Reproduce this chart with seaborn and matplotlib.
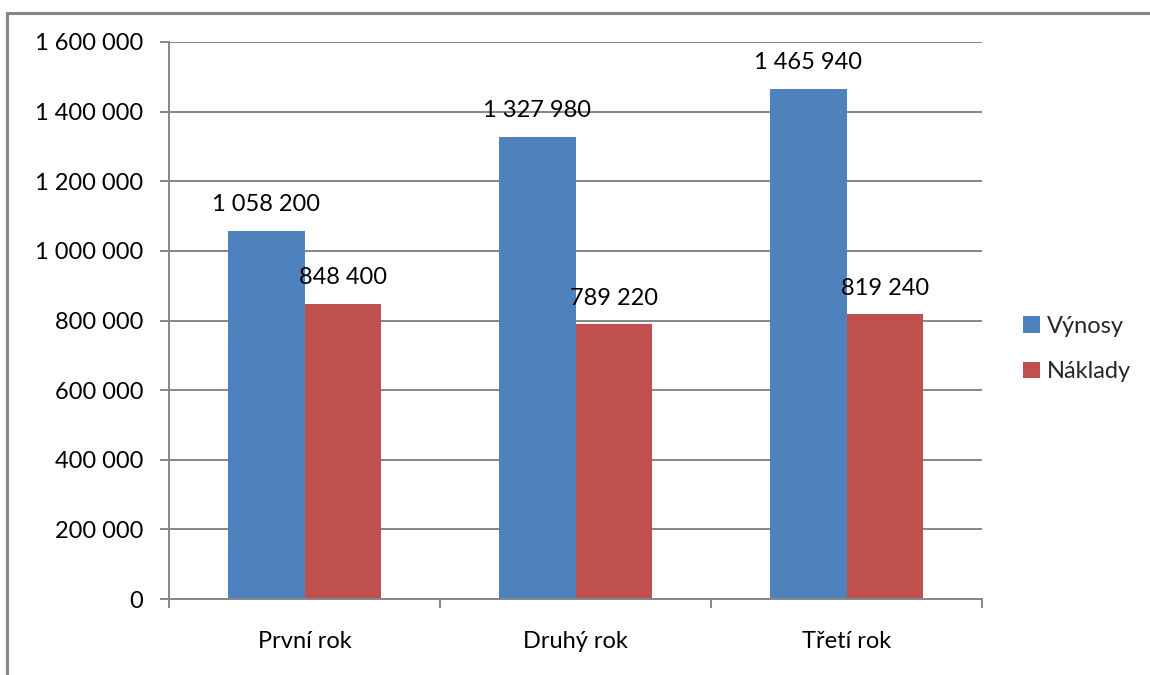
import matplotlib
matplotlib.use("Agg")
import matplotlib.pyplot as plt
from matplotlib.lines import Line2D
from matplotlib.ticker import FuncFormatter, FixedLocator
import seaborn as sns
import pandas as pd

# Roční výnosy a náklady
categories = ["První rok", "Druhý rok", "Třetí rok"]
vynosy = [1058200, 1327980, 1465940]
naklady = [848400, 789220, 819240]
series_names = ["Výnosy", "Náklady"]
y_ticks = [0, 200000, 400000, 600000, 800000, 1000000, 1200000, 1400000, 1600000]

df = pd.DataFrame({
    "rok": categories * 2,
    "hodnota": vynosy + naklady,
    "řada": [series_names[0]] * 3 + [series_names[1]] * 3,
})

sns.set_theme(style="white")
plt.rcParams["font.family"] = ["Lato", "DejaVu Sans"]

GRAY = "#868686"
BLUE = "#4F81BD"
RED = "#C0504D"
FS = 17

fig = plt.figure(figsize=(11.5, 6.75), dpi=100)
ax = fig.add_axes([169 / 1150, 1 - 599 / 675, (982 - 169) / 1150, (599 - 42) / 675])

sns.barplot(data=df, x="rok", y="hodnota", hue="řada", palette=[BLUE, RED],
            width=0.568, linewidth=0, saturation=1, ax=ax, legend=True,
            errorbar=None)

def fmt(v, _=None):
    return f"{int(round(v)):,}".replace(",", " ")

ax.set_ylim(0, 1600000)
ax.set_xlim(-0.5, 2.5)
ax.yaxis.set_major_locator(FixedLocator(y_ticks))
ax.yaxis.set_major_formatter(FuncFormatter(fmt))
ax.set_xlabel("")
ax.set_ylabel("")

ax.grid(axis="y", color=GRAY, linewidth=1.4)
ax.set_axisbelow(True)
for s in ["top", "right"]:
    ax.spines[s].set_visible(False)
for s in ["left", "bottom"]:
    ax.spines[s].set_color(GRAY)
    ax.spines[s].set_linewidth(1.4)

ax.tick_params(axis="y", which="major", length=6.5, width=1.4, color=GRAY,
               left=True, pad=12, labelsize=FS, labelcolor="black")
ax.tick_params(axis="x", which="major", length=0, pad=23, labelsize=FS,
               labelcolor="black")
ax.set_xticks([-0.5, 0.5, 1.5, 2.5], minor=True)
ax.tick_params(axis="x", which="minor", length=6.5, width=1.4, color=GRAY,
               bottom=True)

# Popisky hodnot nad sloupci
for cont in ax.containers:
    ax.bar_label(cont, labels=[fmt(b.get_height()) for b in cont],
                 padding=11, fontsize=FS, color="black")

leg = ax.legend(loc="center left", bbox_to_anchor=(1014 / 1150, 1 - 349 / 675),
                bbox_transform=fig.transFigure, frameon=False, fontsize=FS,
                handlelength=0.7, handleheight=0.7, handletextpad=0.3,
                labelspacing=1.05, borderaxespad=0)

# Rámeček oblasti grafu (levá a horní hrana)
x0, y0 = 7 / 1150, 1 - 13 / 675
fig.lines.append(Line2D([x0, x0], [0.0, y0], transform=fig.transFigure,
                        color=GRAY, linewidth=2.2, solid_capstyle="projecting"))
fig.lines.append(Line2D([x0, 1.0], [y0, y0], transform=fig.transFigure,
                        color=GRAY, linewidth=2.2, solid_capstyle="projecting"))

fig.savefig("out.png", dpi=100)
